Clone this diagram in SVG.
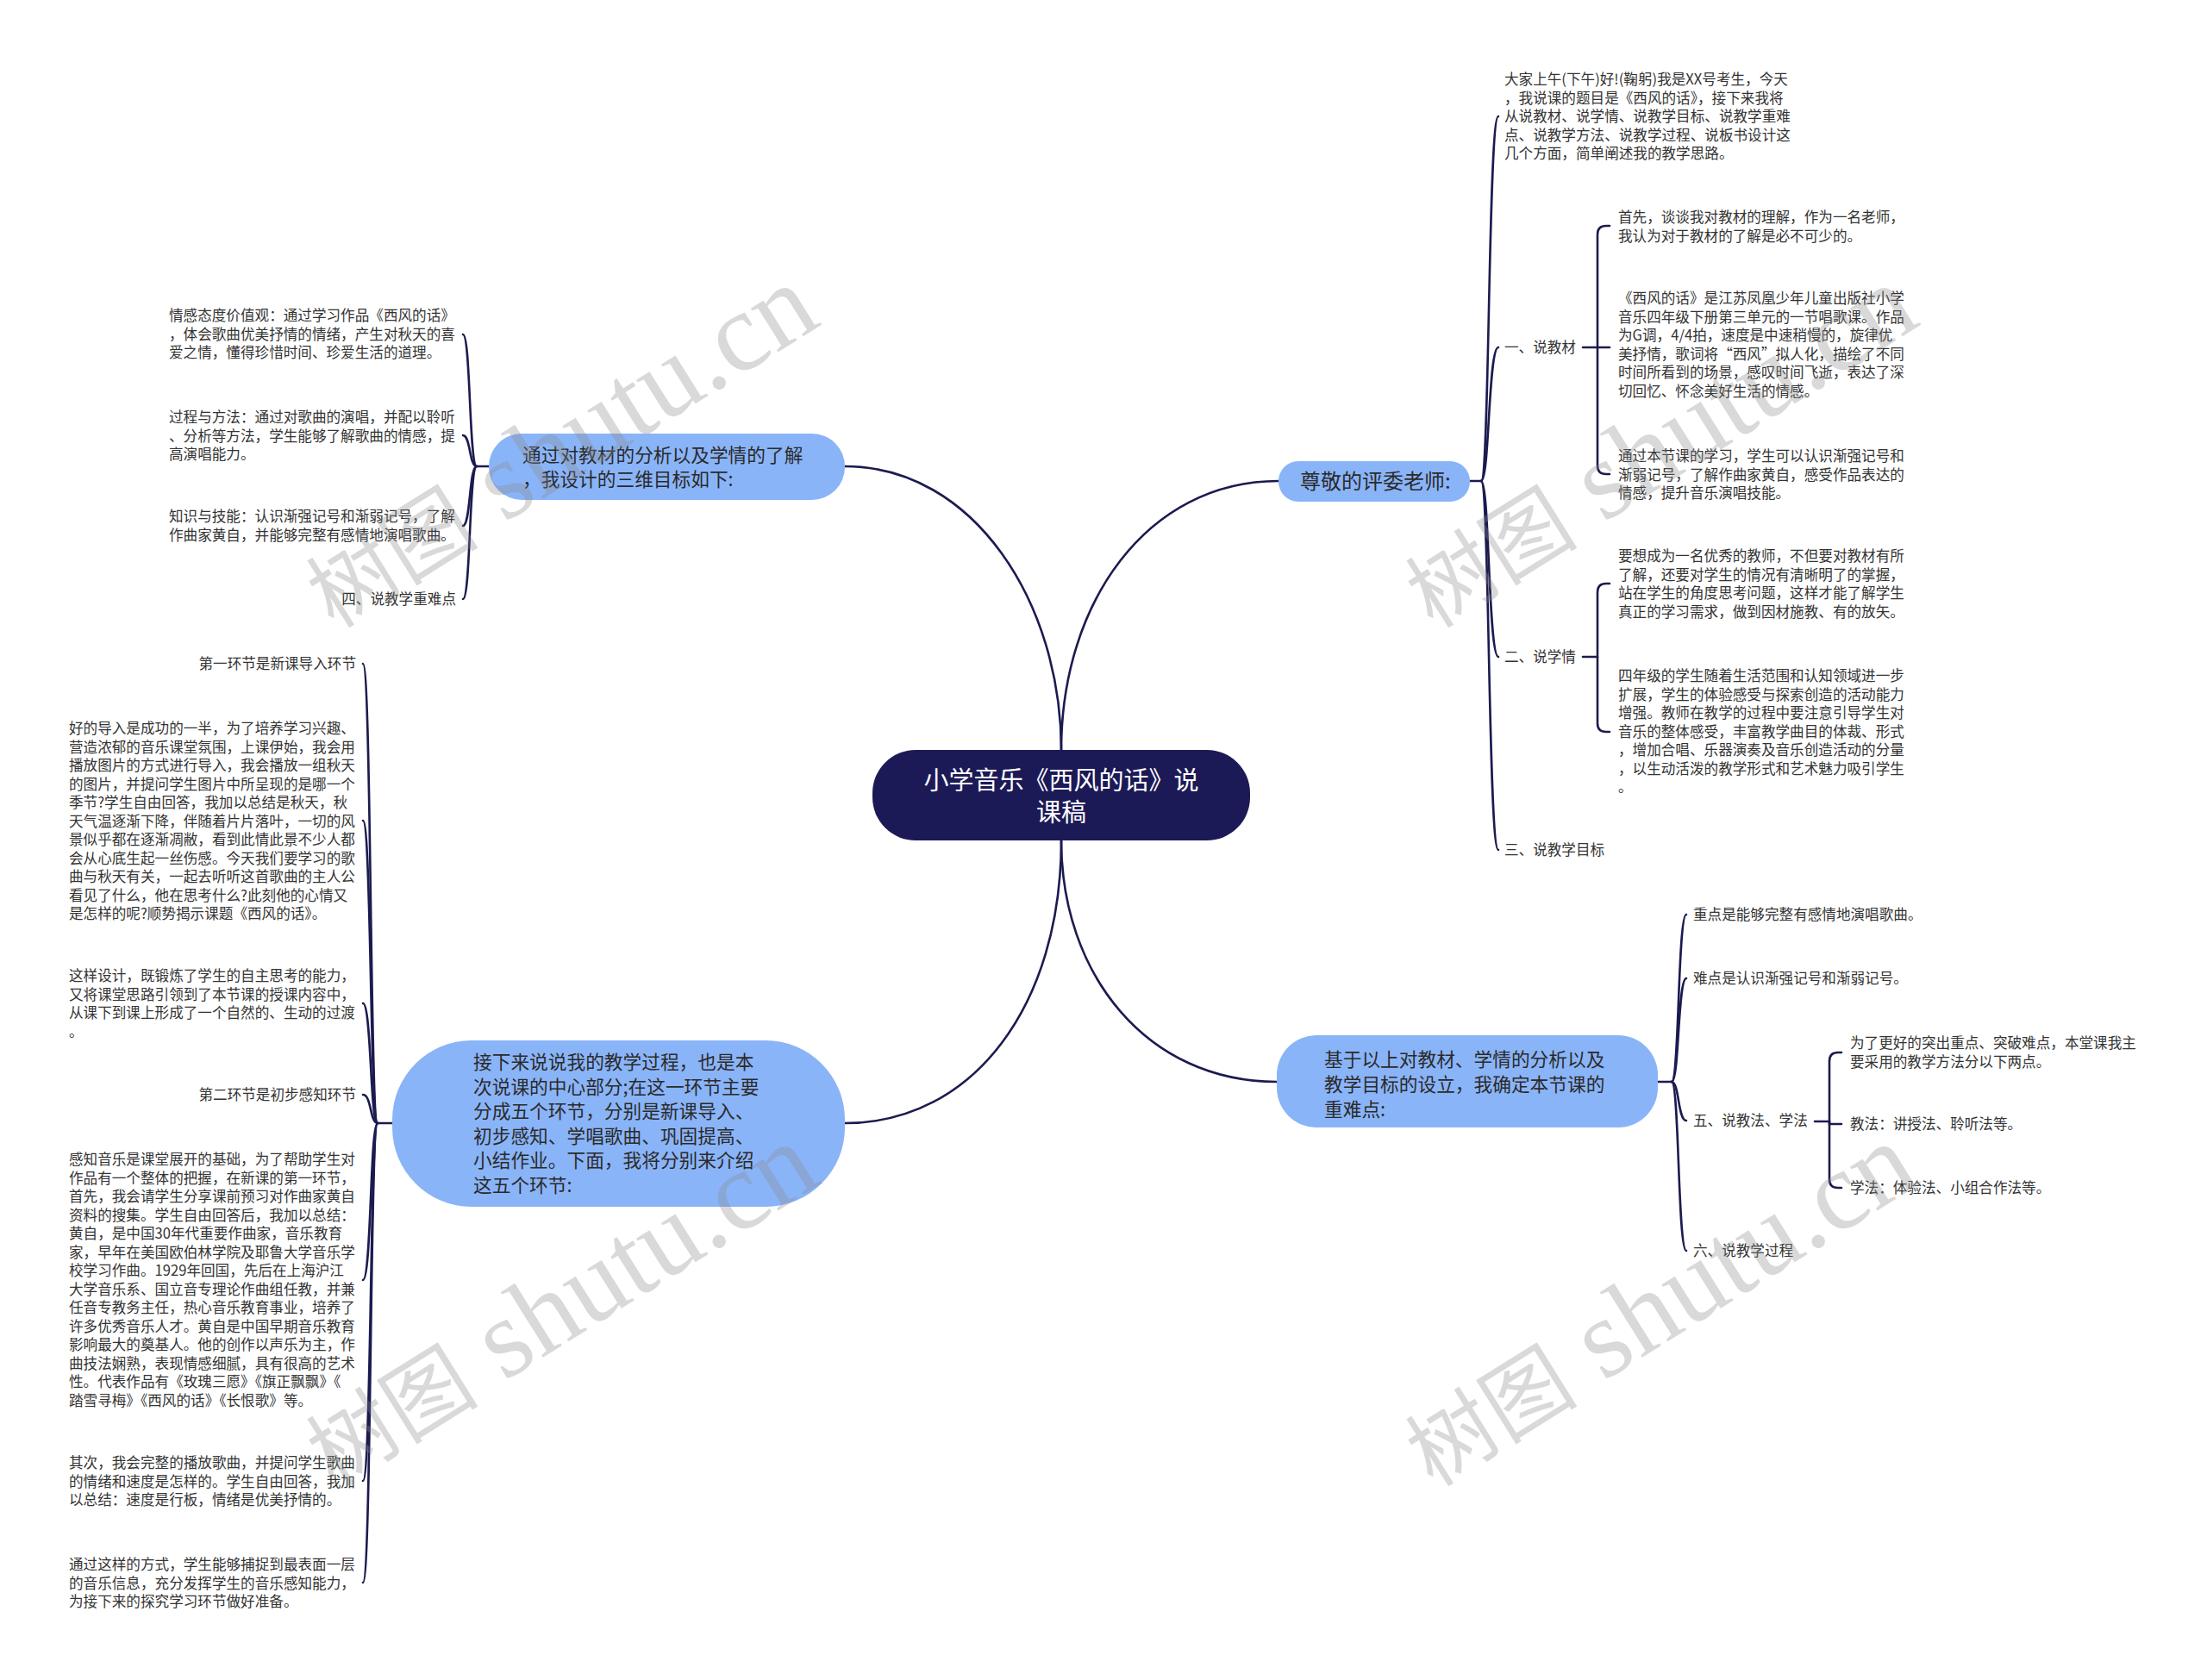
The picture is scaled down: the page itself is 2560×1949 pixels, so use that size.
<svg xmlns="http://www.w3.org/2000/svg" width="2560" height="1949" viewBox="0 0 2560 1949">
<style>
.t{font-family:"Noto Sans CJK SC","Noto Sans",sans-serif;font-size:16.6px;fill:#333}
.b{font-family:"Noto Sans CJK SC","Noto Sans",sans-serif;font-size:21.7px;fill:#2a2a2a}
.ctr{font-family:"Noto Sans CJK SC","Noto Sans",sans-serif;font-size:29px;fill:#fff}
.blue{fill:#8ab4f8}
.lk{fill:none;stroke:#1c1b50;stroke-width:2.6;stroke-linecap:round}
.wm{font-family:"Liberation Serif","Noto Sans CJK SC",serif;fill:#8a8a8a;opacity:0.32}
</style>
<rect width="2560" height="1949" fill="#fff"/>
<g id="connectors" class="lk">
<path d="M1231,870 C1231,700 1130,541 980,541"/>
<path d="M1231,870 C1231,700 1330,558 1483,558"/>
<path d="M1231,975 C1231,1165 1130,1303 980,1303"/>
<path d="M1231,975 C1231,1130 1330,1255 1481,1255"/>
<path d="M1705,558 H1718"/>
<path d="M1718,558 C1728,558 1726,135 1738,135"/>
<path d="M1718,558 C1728,558 1726,403 1738,403"/>
<path d="M1718,558 C1728,558 1726,762 1738,762"/>
<path d="M1718,558 C1728,558 1726,986 1738,986"/>
<path d="M1836,403 H1853 V272 Q1853,262 1863,262 H1867"/>
<path d="M1853,403 H1867"/>
<path d="M1853,403 V540 Q1853,550 1863,550 H1867"/>
<path d="M1836,762 H1853 V687 Q1853,677 1863,677 H1867"/>
<path d="M1853,762 V839 Q1853,849 1863,849 H1867"/>
<path d="M567,541 H553"/>
<path d="M553,541 C544,541 546,388 537,388"/>
<path d="M553,541 C544,541 546,505 537,505"/>
<path d="M553,541 C544,541 546,610 537,610"/>
<path d="M553,541 C544,541 546,695 537,695"/>
<path d="M1923,1255 H1939"/>
<path d="M1939,1255 C1948,1255 1946,1061 1956,1061"/>
<path d="M1939,1255 C1948,1255 1946,1135 1956,1135"/>
<path d="M1939,1255 C1948,1255 1946,1300 1956,1300"/>
<path d="M1939,1255 C1948,1255 1946,1451 1956,1451"/>
<path d="M2105,1301 H2122 V1231 Q2122,1221 2132,1221 H2136"/>
<path d="M2122,1301 V1304 H2136"/>
<path d="M2122,1301 V1368 Q2122,1378 2132,1378 H2136"/>
<path d="M455,1303 H438"/>
<path d="M438,1303 C429,1303 431,770 421,770"/>
<path d="M438,1303 C429,1303 431,952 421,952"/>
<path d="M438,1303 C429,1303 431,1164 421,1164"/>
<path d="M438,1303 C429,1303 431,1270 421,1270"/>
<path d="M438,1303 C429,1303 431,1485 421,1485"/>
<path d="M438,1303 C429,1303 431,1718 421,1718"/>
<path d="M438,1303 C429,1303 431,1836 421,1836"/>
</g>
<g id="center">
<rect x="1012" y="870" width="438" height="105" rx="50" fill="#1c1a56"/>
<text class="ctr" text-anchor="middle"><tspan x="1231" y="916">小学音乐《西风的话》说</tspan><tspan x="1231" y="953">课稿</tspan></text>
</g>
<g id="n-goal">
<rect class="blue" x="567" y="503" width="413" height="77" rx="38"/>
<text class="b"><tspan x="606" y="536">通过对教材的分析以及学情的了解</tspan><tspan x="606" y="564">，我设计的三维目标如下:</tspan></text>
</g>
<g id="n-judges">
<rect class="blue" x="1483" y="535" width="222" height="47" rx="23"/>
<text class="b" style="font-size:24px" x="1508" y="567">尊敬的评委老师:</text>
</g>
<g id="n-key">
<rect class="blue" x="1481" y="1201" width="442" height="107" rx="46"/>
<text class="b"><tspan x="1536" y="1237">基于以上对教材、学情的分析以及</tspan><tspan x="1536" y="1266">教学目标的设立，我确定本节课的</tspan><tspan x="1536" y="1295">重难点:</tspan></text>
</g>
<g id="n-process">
<rect class="blue" x="455" y="1207" width="525" height="193" rx="92"/>
<text class="b"><tspan x="549" y="1240">接下来说说我的教学过程，也是本</tspan><tspan x="549" y="1268.5">次说课的中心部分;在这一环节主要</tspan><tspan x="549" y="1297">分成五个环节，分别是新课导入、</tspan><tspan x="549" y="1325.5">初步感知、学唱歌曲、巩固提高、</tspan><tspan x="549" y="1354">小结作业。下面，我将分别来介绍</tspan><tspan x="549" y="1382.5">这五个环节:</tspan></text>
</g>
<g id="r0">
<text class="t"><tspan x="1745" y="98">大家上午(下午)好!(鞠躬)我是XX号考生，今天</tspan><tspan x="1745" dy="21.5">，我说课的题目是《西风的话》，接下来我将</tspan><tspan x="1745" dy="21.5">从说教材、说学情、说教学目标、说教学重难</tspan><tspan x="1745" dy="21.5">点、说教学方法、说教学过程、说板书设计这</tspan><tspan x="1745" dy="21.5">几个方面，简单阐述我的教学思路。</tspan></text>
</g>
<g id="r1"><text class="t" x="1745" y="409">一、说教材</text></g>
<g id="r1a">
<text class="t"><tspan x="1877" y="258">首先，谈谈我对教材的理解，作为一名老师，</tspan><tspan x="1877" dy="21.5">我认为对于教材的了解是必不可少的。</tspan></text>
</g>
<g id="r1b">
<text class="t"><tspan x="1877" y="352">《西风的话》是江苏凤凰少年儿童出版社小学</tspan><tspan x="1877" dy="21.5">音乐四年级下册第三单元的一节唱歌课。作品</tspan><tspan x="1877" dy="21.5">为G调，4/4拍，速度是中速稍慢的，旋律优</tspan><tspan x="1877" dy="21.5">美抒情，歌词将“西风”拟人化，描绘了不同</tspan><tspan x="1877" dy="21.5">时间所看到的场景，感叹时间飞逝，表达了深</tspan><tspan x="1877" dy="21.5">切回忆、怀念美好生活的情感。</tspan></text>
</g>
<g id="r1c">
<text class="t"><tspan x="1877" y="535">通过本节课的学习，学生可以认识渐强记号和</tspan><tspan x="1877" dy="21.5">渐弱记号，了解作曲家黄自，感受作品表达的</tspan><tspan x="1877" dy="21.5">情感，提升音乐演唱技能。</tspan></text>
</g>
<g id="r2"><text class="t" x="1745" y="768">二、说学情</text></g>
<g id="r2a">
<text class="t"><tspan x="1877" y="651">要想成为一名优秀的教师，不但要对教材有所</tspan><tspan x="1877" dy="21.5">了解，还要对学生的情况有清晰明了的掌握，</tspan><tspan x="1877" dy="21.5">站在学生的角度思考问题，这样才能了解学生</tspan><tspan x="1877" dy="21.5">真正的学习需求，做到因材施教、有的放矢。</tspan></text>
</g>
<g id="r2b">
<text class="t"><tspan x="1877" y="790">四年级的学生随着生活范围和认知领域进一步</tspan><tspan x="1877" dy="21.5">扩展，学生的体验感受与探索创造的活动能力</tspan><tspan x="1877" dy="21.5">增强。教师在教学的过程中要注意引导学生对</tspan><tspan x="1877" dy="21.5">音乐的整体感受，丰富教学曲目的体裁、形式</tspan><tspan x="1877" dy="21.5">，增加合唱、乐器演奏及音乐创造活动的分量</tspan><tspan x="1877" dy="21.5">，以生动活泼的教学形式和艺术魅力吸引学生</tspan><tspan x="1877" dy="21.5">。</tspan></text>
</g>
<g id="r3"><text class="t" x="1745" y="992">三、说教学目标</text></g>
<g id="l1">
<text class="t"><tspan x="196" y="372">情感态度价值观：通过学习作品《西风的话》</tspan><tspan x="196" dy="21.5">，体会歌曲优美抒情的情绪，产生对秋天的喜</tspan><tspan x="196" dy="21.5">爱之情，懂得珍惜时间、珍爱生活的道理。</tspan></text>
</g>
<g id="l2">
<text class="t"><tspan x="196" y="490">过程与方法：通过对歌曲的演唱，并配以聆听</tspan><tspan x="196" dy="21.5">、分析等方法，学生能够了解歌曲的情感，提</tspan><tspan x="196" dy="21.5">高演唱能力。</tspan></text>
</g>
<g id="l3">
<text class="t"><tspan x="196" y="605">知识与技能：认识渐强记号和渐弱记号，了解</tspan><tspan x="196" dy="21.5">作曲家黄自，并能够完整有感情地演唱歌曲。</tspan></text>
</g>
<g id="l4"><text class="t" x="529" y="701" text-anchor="end">四、说教学重难点</text></g>
<g id="b1"><text class="t" x="1964" y="1067">重点是能够完整有感情地演唱歌曲。</text></g>
<g id="b2"><text class="t" x="1964" y="1141">难点是认识渐强记号和渐弱记号。</text></g>
<g id="b3"><text class="t" x="1964" y="1306">五、说教法、学法</text></g>
<g id="b3a">
<text class="t"><tspan x="2146" y="1216">为了更好的突出重点、突破难点，本堂课我主</tspan><tspan x="2146" dy="21.5">要采用的教学方法分以下两点。</tspan></text>
</g>
<g id="b3b"><text class="t" x="2146" y="1310">教法：讲授法、聆听法等。</text></g>
<g id="b3c"><text class="t" x="2146" y="1384">学法：体验法、小组合作法等。</text></g>
<g id="b4"><text class="t" x="1964" y="1457">六、说教学过程</text></g>
<g id="p1"><text class="t" x="413" y="776" text-anchor="end">第一环节是新课导入环节</text></g>
<g id="p2">
<text class="t"><tspan x="80" y="851">好的导入是成功的一半，为了培养学习兴趣、</tspan><tspan x="80" dy="21.5">营造浓郁的音乐课堂氛围，上课伊始，我会用</tspan><tspan x="80" dy="21.5">播放图片的方式进行导入，我会播放一组秋天</tspan><tspan x="80" dy="21.5">的图片，并提问学生图片中所呈现的是哪一个</tspan><tspan x="80" dy="21.5">季节?学生自由回答，我加以总结是秋天，秋</tspan><tspan x="80" dy="21.5">天气温逐渐下降，伴随着片片落叶，一切的风</tspan><tspan x="80" dy="21.5">景似乎都在逐渐凋敝，看到此情此景不少人都</tspan><tspan x="80" dy="21.5">会从心底生起一丝伤感。今天我们要学习的歌</tspan><tspan x="80" dy="21.5">曲与秋天有关，一起去听听这首歌曲的主人公</tspan><tspan x="80" dy="21.5">看见了什么，他在思考什么?此刻他的心情又</tspan><tspan x="80" dy="21.5">是怎样的呢?顺势揭示课题《西风的话》。</tspan></text>
</g>
<g id="p3">
<text class="t"><tspan x="80" y="1138">这样设计，既锻炼了学生的自主思考的能力，</tspan><tspan x="80" dy="21.5">又将课堂思路引领到了本节课的授课内容中，</tspan><tspan x="80" dy="21.5">从课下到课上形成了一个自然的、生动的过渡</tspan><tspan x="80" dy="21.5">。</tspan></text>
</g>
<g id="p4"><text class="t" x="413" y="1276" text-anchor="end">第二环节是初步感知环节</text></g>
<g id="p5">
<text class="t"><tspan x="80" y="1351">感知音乐是课堂展开的基础，为了帮助学生对</tspan><tspan x="80" dy="21.5">作品有一个整体的把握，在新课的第一环节，</tspan><tspan x="80" dy="21.5">首先，我会请学生分享课前预习对作曲家黄自</tspan><tspan x="80" dy="21.5">资料的搜集。学生自由回答后，我加以总结：</tspan><tspan x="80" dy="21.5">黄自，是中国30年代重要作曲家，音乐教育</tspan><tspan x="80" dy="21.5">家，早年在美国欧伯林学院及耶鲁大学音乐学</tspan><tspan x="80" dy="21.5">校学习作曲。1929年回国，先后在上海沪江</tspan><tspan x="80" dy="21.5">大学音乐系、国立音专理论作曲组任教，并兼</tspan><tspan x="80" dy="21.5">任音专教务主任，热心音乐教育事业，培养了</tspan><tspan x="80" dy="21.5">许多优秀音乐人才。黄自是中国早期音乐教育</tspan><tspan x="80" dy="21.5">影响最大的奠基人。他的创作以声乐为主，作</tspan><tspan x="80" dy="21.5">曲技法娴熟，表现情感细腻，具有很高的艺术</tspan><tspan x="80" dy="21.5">性。代表作品有《玫瑰三愿》《旗正飘飘》《</tspan><tspan x="80" dy="21.5">踏雪寻梅》《西风的话》《长恨歌》等。</tspan></text>
</g>
<g id="p6">
<text class="t"><tspan x="80" y="1703">其次，我会完整的播放歌曲，并提问学生歌曲</tspan><tspan x="80" dy="21.5">的情绪和速度是怎样的。学生自由回答，我加</tspan><tspan x="80" dy="21.5">以总结：速度是行板，情绪是优美抒情的。</tspan></text>
</g>
<g id="p7">
<text class="t"><tspan x="80" y="1821">通过这样的方式，学生能够捕捉到最表面一层</tspan><tspan x="80" dy="21.5">的音乐信息，充分发挥学生的音乐感知能力，</tspan><tspan x="80" dy="21.5">为接下来的探究学习环节做好准备。</tspan></text>
</g>
<g id="watermarks">
<text class="wm" text-anchor="middle" transform="translate(650,519) rotate(-32)" y="40"><tspan font-size="100">树图</tspan><tspan font-size="130"> shutu.cn</tspan></text>
<text class="wm" text-anchor="middle" transform="translate(1925,519) rotate(-32)" y="40"><tspan font-size="100">树图</tspan><tspan font-size="130"> shutu.cn</tspan></text>
<text class="wm" text-anchor="middle" transform="translate(650,1515) rotate(-32)" y="40"><tspan font-size="100">树图</tspan><tspan font-size="130"> shutu.cn</tspan></text>
<text class="wm" text-anchor="middle" transform="translate(1925,1515) rotate(-32)" y="40"><tspan font-size="100">树图</tspan><tspan font-size="130"> shutu.cn</tspan></text>
</g>
</svg>
